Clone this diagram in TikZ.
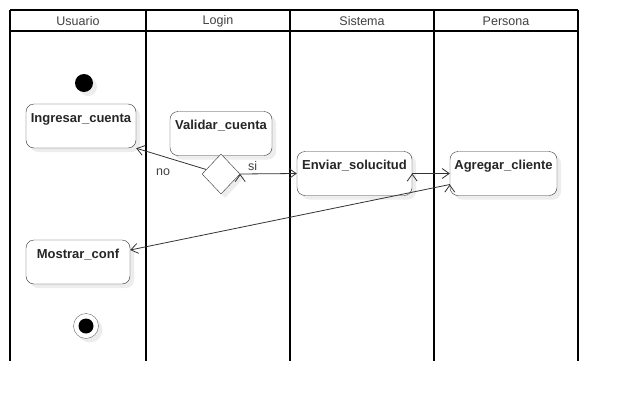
\documentclass[tikz,border=0pt]{standalone}
\usepackage{fontspec}
\setmainfont{Liberation Sans}
\usetikzlibrary{arrows.meta,shapes.geometric,shadows}
\definecolor{lanegray}{HTML}{404040}
\definecolor{edgegray}{HTML}{333333}
\tikzset{
  nodeshadow/.style={drop shadow={shadow xshift=4pt,shadow yshift=-4pt,fill=black,opacity=0.07}},
  action/.style={draw=edgegray,rounded corners=8pt,fill=white,nodeshadow,
    font=\fontsize{13}{15}\selectfont\bfseries,text=black!85,
    inner ysep=4pt,text height=14pt,text depth=22pt,minimum height=40pt},
  decision/.style={diamond,draw=black!80,fill=white,nodeshadow,inner sep=0pt,
    minimum width=38pt,minimum height=40pt},
  startdot/.style={circle,fill=black,minimum size=18pt,inner sep=0pt,nodeshadow},
  lanetitle/.style={font=\fontsize{12.5}{14}\selectfont,text=lanegray},
  guard/.style={font=\fontsize{12.5}{14}\selectfont,text=lanegray},
  flow/.style={draw=edgegray,line width=0.8pt,-{Straight Barb[length=7pt,width=10pt]}}
}
\begin{document}
\begin{tikzpicture}[x=1pt,y=-1pt]
  \useasboundingbox (0,0) rectangle (618,402);
  % swimlanes
  \draw[line width=1.6pt] (10,10) -- (578,10);
  \draw[line width=1.6pt] (10,31) -- (578,31);
  \draw[line width=1.6pt] (10,10) -- (10,361);
  \draw[line width=1.6pt] (146,10) -- (146,361);
  \draw[line width=1.6pt] (290,10) -- (290,361);
  \draw[line width=1.6pt] (434,10) -- (434,361);
  \draw[line width=1.6pt] (578,10) -- (578,361);
  \node[lanetitle] (usr) at (78,21) {Usuario};
  \node[lanetitle] (log) at (218,21) {Login};
  \node[lanetitle] (sis) at (362,21) {Sistema};
  \node[lanetitle] (per) at (506,21) {Persona};
  % actions
  \node[startdot] (ini) at (84,83) {};
  \node[action,minimum width=110pt] (ing) at (81,126) {Ingresar\_cuenta};
  \node[action,minimum width=102pt,minimum height=41pt] (val) at (221,133.5) {Validar\_cuenta};
  \node[decision] (dec) at (221,174) {};
  \node[action,minimum width=115pt,minimum height=41pt] (env) at (354.5,173.5) {Enviar\_solucitud};
  \node[action,minimum width=107pt,minimum height=41pt] (agr) at (503.5,173.5) {Agregar\_cliente};
  \node[action,minimum width=104pt] (mos) at (78,262) {Mostrar\_conf};
  \node[circle,draw=black!60,fill=white,minimum size=25pt,inner sep=0pt,nodeshadow] (fin) at (86,326) {};
  \node[circle,fill=black,minimum size=15pt,inner sep=0pt] (finin) at (fin) {};
  % flows
  \path[flow] (dec) edge (ing.south east);
  \node[guard] (no) at (163,172) {no};
  \path[flow] (dec.east) edge node[guard,above,pos=0.22] {si} (env.west);
  \path[flow] (env.east) edge (agr.west);
  \path[flow] ([yshift=-11pt]agr.west) edge ([yshift=12pt]mos.east);
\end{tikzpicture}
\end{document}
